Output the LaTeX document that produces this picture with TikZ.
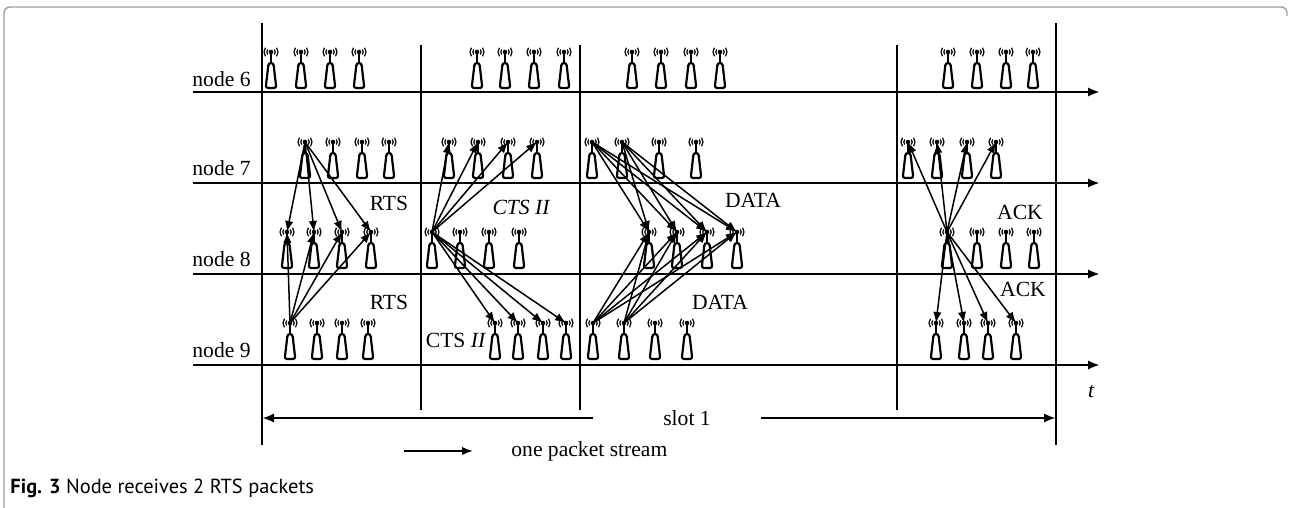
\documentclass[tikz,border=0pt]{standalone}
\usepackage{fontspec}
\setmainfont{Liberation Serif}
\newfontfamily\capfont{PT Sans}
\usetikzlibrary{positioning,calc,arrows.meta}

\tikzset{
  antenna/.pic={
    \draw[line width=0.6pt] (-38:4.2) arc[start angle=-38,end angle=38,radius=4.2]
      (-38:7) arc[start angle=-38,end angle=38,radius=7]
      (142:4.2) arc[start angle=142,end angle=218,radius=4.2]
      (142:7) arc[start angle=142,end angle=218,radius=7];
    \fill (0,0) circle[radius=2.3];
    \draw[line width=1.2pt] (0,0) -- (0,11);
    \draw[line width=1.1pt, rounded corners=1.2pt] (-2.4,11) -- (-5.3,36) -- (5.3,36) -- (2.4,11) -- cycle;
  },
  tline/.style={line width=1.2pt, -{Latex[length=6pt,width=4.6pt]}},
  sline/.style={line width=0.9pt},
  pkt/.style={line width=0.75pt, -{Latex[length=5.5pt,width=4.2pt]}},
  lbl/.style={font=\fontsize{10.8}{13}\selectfont, inner sep=0pt}
}

\begin{document}
\begin{tikzpicture}[x=0.5pt, y=-0.5pt]
    \useasboundingbox (0,0) rectangle (1289,508);
    \draw[gray!75, line width=0.7pt, rounded corners=3pt] (4,508) -- (4,7) -- (1287,7) -- (1287,16);

    % time lines
    \foreach \r/\y in {6/92, 7/183, 8/274, 9/365} {
      \coordinate (l\r s) at (193,\y);
      \coordinate (l\r e) at (1100,\y);
      \draw[tline] (l\r s) -- (l\r e);
    }
    \node[lbl, anchor=base east] (node6) at (251,87) {node 6};
    \node[lbl, anchor=base east] (node7) at (251,175) {node 7};
    \node[lbl, anchor=base east] (node8) at (251,266) {node 8};
    \node[lbl, anchor=base east] (node9) at (251,357) {node 9};

    % slot borders
    \foreach \v/\x/\a/\b in {1/262/23/445, 2/421/45/410, 3/580/45/410, 4/897/45/410, 5/1056/23/445} {
      \coordinate (v\v t) at (\x,\a);
      \coordinate (v\v b) at (\x,\b);
      \draw[sline] (v\v t) -- (v\v b);
    }

    % antennas
    \foreach \r/\y/\xs in {
      6/52/{271,301,330,359,477,505,534,564,632,661,691,720,948,977,1006,1033},
      7/142/{305,333,362,389,449,478,508,537,592,622,659,696,908,937,967,996},
      8/232/{287,314,342,371,432,460,489,519,649,677,707,737,947,977,1006,1034},
      9/323/{290,317,342,368,495,518,543,566,593,624,655,687,936,964,988,1016}} {
      \foreach \x [count=\i] in \xs {
        \coordinate (n\r-\i) at (\x,\y);
        \pic at (n\r-\i) {antenna};
      }
    }

    % RTS
    \foreach \t in {1,...,4} {
      \draw[pkt] (n7-1) -- (n8-\t);
      \draw[pkt] (n9-1) -- (n8-\t);
    }
    % CTS II
    \foreach \t in {5,...,8} {
      \draw[pkt] (n8-5) -- (n7-\t);
      \draw[pkt] (n8-5) -- (n9-\t);
    }
    % DATA
    \foreach \s in {9,10} {
      \foreach \t in {9,...,12} {
        \draw[pkt] (n7-\s) -- (n8-\t);
        \draw[pkt] (n9-\s) -- (n8-\t);
      }
    }
    % ACK
    \foreach \t in {13,...,16} {
      \draw[pkt] (n8-13) -- (n7-\t);
      \draw[pkt] (n8-13) -- (n9-\t);
    }

    \node[lbl] (rts1) at (389,203) {RTS};
    \node[lbl] (rts2) at (389,302) {RTS};
    \node[lbl] (cts1) at (521,207) {\itshape CTS II};
    \node[lbl] (cts2) at (456,340) {CTS \textit{II}};
    \node[lbl] (data1) at (753,200) {DATA};
    \node[lbl] (data2) at (720,302) {DATA};
    \node[lbl] (ack1) at (1020,212) {ACK};
    \node[lbl] (ack2) at (1023,289) {ACK};
    \node[lbl] (tlab) at (1091,392) {\itshape t};

    % slot
    \node[lbl] (slot) at (687,418) {slot 1};
    \coordinate (sl) at (593,418);
    \coordinate (sr) at (761,418);
    \coordinate (s1) at (262,418);
    \coordinate (s5) at (1056,418);
    \draw[tline] (sl) -- (s1);
    \draw[tline] (sr) -- (s5);

    % legend
    \coordinate (ga) at (404,451);
    \coordinate (gb) at (473,451);
    \draw[line width=0.9pt, -{Latex[length=5.5pt,width=4.2pt]}] (ga) -- (gb);
    \node[lbl, anchor=west] (leg) at (511,451) {one packet stream};

    \node[anchor=west, inner sep=0pt, font=\capfont\fontsize{10.2}{12}\selectfont] (cap) at (10,488) {\textbf{Fig. 3} Node receives 2 RTS packets};
\end{tikzpicture}
\end{document}
